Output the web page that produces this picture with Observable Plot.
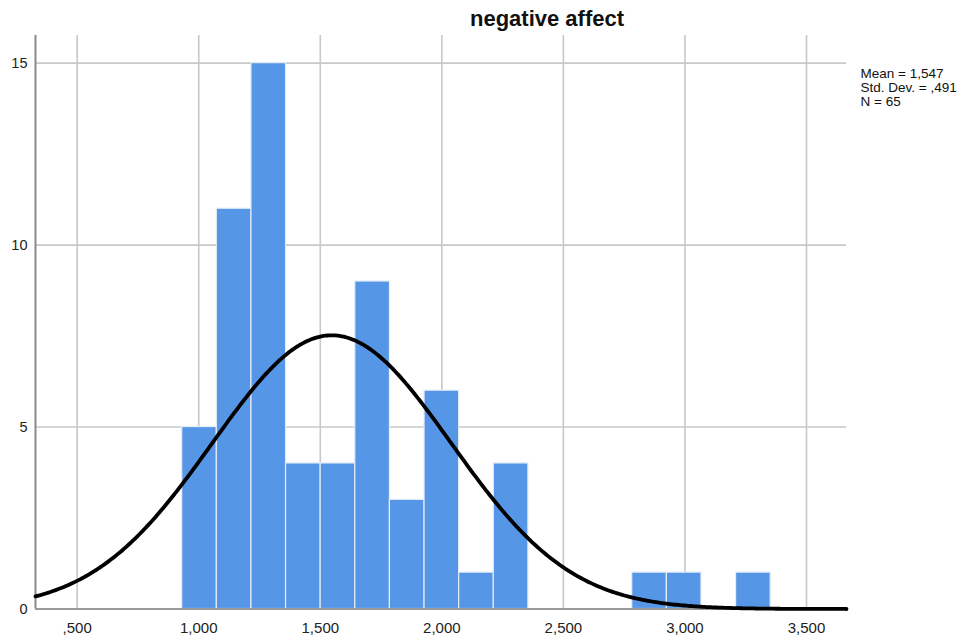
<!DOCTYPE html>
<html>
<head>
<meta charset="utf-8">
<script src="https://cdn.jsdelivr.net/npm/d3@7"></script>
<script src="https://cdn.jsdelivr.net/npm/@observablehq/plot@0.6"></script>
<style>
  html, body { margin: 0; padding: 0; background: #fff; }
  #chart svg { display: block; font-family: "Liberation Sans", Arial, sans-serif; }
</style>
</head>
<body>
<div id="chart"></div>
<script>
// Histogram of negative affect scores
const binStart = 0.932;
const binWidth = 0.1424;
const counts = [5, 11, 15, 4, 4, 9, 3, 6, 1, 4, 0, 0, 0, 1, 1, 0, 1];

// Summary statistics shown beside the plot
const mean = 1.547;
const stdDev = 0.491;
const n = 65;

const xTicks = [0.5, 1, 1.5, 2, 2.5, 3, 3.5];
const yTicks = [0, 5, 10, 15];

const bins = counts.map((c, i) => ({
  x1: binStart + i * binWidth,
  x2: binStart + (i + 1) * binWidth,
  count: c
})).filter(d => d.count > 0);

// Fitted normal curve scaled to counts per bin
const xDomain = [0.3285, 3.6646];
const curve = d3.range(0, 401).map(i => {
  const x = xDomain[0] + (xDomain[1] - xDomain[0]) * i / 400;
  const z = (x - mean) / stdDev;
  return { x, y: n * binWidth * Math.exp(-0.5 * z * z) / (stdDev * Math.sqrt(2 * Math.PI)) };
});

const fmt = v => v.toFixed(3).replace(".", ",").replace(/^0/, "");
const statsLines = [`Mean = ${fmt(mean)}`, `Std. Dev. = ${fmt(stdDev)}`, `N = ${n}`];

const chart = Plot.plot({
  width: 970,
  height: 641,
  marginLeft: 35,
  marginRight: 124,
  marginTop: 35,
  marginBottom: 32.5,
  style: { fontSize: "15px", fontFamily: "'Liberation Sans', Arial, sans-serif", color: "#222" },
  x: { domain: xDomain },
  y: { domain: [0, 15.76] },
  marks: [
    Plot.gridX(xTicks, { stroke: "#c8c8c8", strokeOpacity: 1, strokeWidth: 1.6 }),
    Plot.gridY(yTicks, { stroke: "#c8c8c8", strokeOpacity: 1, strokeWidth: 1.6 }),
    Plot.rectY(bins, { x1: "x1", x2: "x2", y: "count", fill: "#5596e6", stroke: "#e4ecf8", strokeWidth: 1.2 }),
    Plot.ruleX([xDomain[0]], { stroke: "#8a8a8a", strokeWidth: 2 }),
    Plot.ruleY([0], { stroke: "#9a9a9a", strokeWidth: 2 }),
    Plot.line(curve, { x: "x", y: "y", stroke: "#000", strokeWidth: 3.8 }),
    Plot.axisX({ ticks: xTicks, tickFormat: fmt, tickSize: 0, tickPadding: 13, label: null, fontSize: 15 }),
    Plot.axisY({ ticks: yTicks, tickSize: 0, tickPadding: 8, label: null, fontSize: 14.5 }),
    Plot.text(["negative affect"], {
      frameAnchor: "top", dx: 106, dy: -10, lineAnchor: "bottom", fontSize: 22, fontWeight: "bold", fill: "#111"
    }),
    // one text per statistic, stacked 14px apart
    ...statsLines.map((line, i) => Plot.text([line], {
      frameAnchor: "top-right", dx: 14, dy: 33 + i * 14, textAnchor: "start",
      fontSize: 13.5, fill: "#111"
    }))
  ]
});

document.getElementById("chart").appendChild(chart);
</script>
</body>
</html>
